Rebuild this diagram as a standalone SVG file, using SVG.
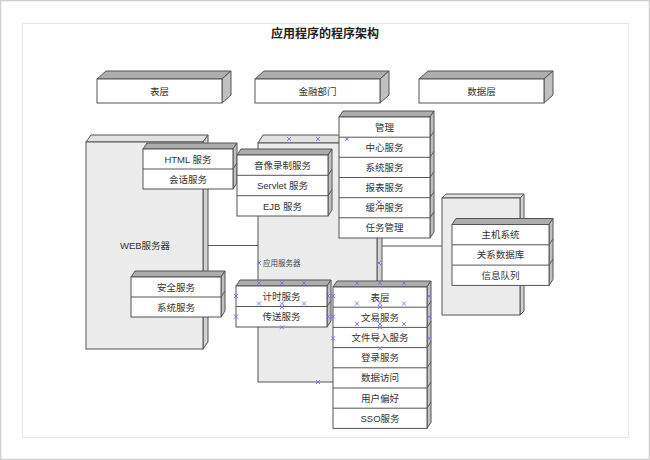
<svg xmlns="http://www.w3.org/2000/svg" xmlns:xlink="http://www.w3.org/1999/xlink" width="650" height="460" viewBox="0 0 650 460">
<defs>
<style>
.t{font-family:"Liberation Sans","Noto Sans CJK SC",sans-serif;font-size:9.5px;fill:#333;text-anchor:middle}
.tt{font-family:"Liberation Serif","Noto Sans CJK SC",serif;font-size:12px;font-weight:bold;fill:#222;text-anchor:middle}
.small{font-family:"Liberation Sans","Noto Sans CJK SC",sans-serif;font-size:7.5px;fill:#444}
.f{fill:#fff;stroke:#555;stroke-width:1}
.tp{fill:#adadad;stroke:#555;stroke-width:1}
.sd{fill:#c0c0c0;stroke:#555;stroke-width:1}
.nf{fill:#ececec;stroke:#555;stroke-width:1}
.nt{fill:#e2e2e2;stroke:#555;stroke-width:1}
.ns{fill:#d2d2d2;stroke:#555;stroke-width:1}
.ln{fill:none;stroke:#555;stroke-width:1}
.dv{stroke:#555;stroke-width:1}
.mk{fill:none;stroke:#7070ff;stroke-width:0.9}
</style>
<path id="x" class="mk" d="M-2,-2L2,2M-2,2L2,-2"/>
</defs>
<rect x="0.5" y="0.5" width="649" height="459" fill="#fff" stroke="#cfcfcf" stroke-width="1.5"/>
<rect x="22.5" y="23.5" width="606" height="414" fill="#fff" stroke="#e6e6e6" stroke-width="1"/>
<text class="tt" x="325" y="38">应用程序的程序架构</text>

<g id="layer-biao">
<polygon class="tp" points="97,79 106,71 231,71 222,79"/>
<polygon class="sd" points="222,79 231,71 231,95 222,103"/>
<rect class="f" x="97" y="79" width="125" height="24"/>
<text class="t" x="159.5" y="94.5">表层</text>
</g>
<g id="layer-jinrong">
<polygon class="tp" points="255,79 264,71 389,71 380,79"/>
<polygon class="sd" points="380,79 389,71 389,95 380,103"/>
<rect class="f" x="255" y="79" width="125" height="24"/>
<text class="t" x="317.5" y="94.5">金融部门</text>
</g>
<g id="layer-shuju">
<polygon class="tp" points="419,79 428,71 553,71 544,79"/>
<polygon class="sd" points="544,79 553,71 553,95 544,103"/>
<rect class="f" x="419" y="79" width="125" height="24"/>
<text class="t" x="481.5" y="94.5">数据层</text>
</g>

<g id="web-server">
<polygon class="nt" points="86,142 91,135 208,135 203,142"/>
<polygon class="ns" points="203,142 208,135 208,342 203,349"/>
<rect class="nf" x="86" y="142" width="117" height="207"/>
<text class="t" x="145" y="248.5">WEB服务器</text>
</g>
<g id="app-server">
<polygon class="nt" points="258,143 263,135 382,135 377,143"/>
<polygon class="ns" points="377,143 382,135 382,374 377,382"/>
<rect class="nf" x="258" y="143" width="119" height="239"/>
<text class="small" x="263" y="265.5">应用服务器</text>
</g>
<g id="data-server">
<polygon class="nt" points="442,198 446,194 524,194 520,198"/>
<polygon class="ns" points="520,198 524,194 524,311 520,315"/>
<rect class="nf" x="442" y="198" width="78" height="117"/>
</g>

<g id="connectors">
<line class="ln" x1="208" y1="245.5" x2="258" y2="245.5"/>
<line class="ln" x1="382" y1="246" x2="442" y2="246"/>
</g>

<g id="web-comp-1">
<polygon class="tp" points="143,149 147,143 237,143 233,149"/>
<polygon class="sd" points="233,149 237,143 237,183 233,189"/>
<line class="dv" x1="233" y1="169" x2="237" y2="163"/>
<rect class="f" x="143" y="149" width="90" height="40"/>
<line class="dv" x1="143" y1="169" x2="233" y2="169"/>
<text class="t" x="188" y="162.5">HTML 服务</text>
<text class="t" x="188" y="182.5">会话服务</text>
</g>
<g id="web-comp-2">
<polygon class="tp" points="131,277 135,271 225,271 221,277"/>
<polygon class="sd" points="221,277 225,271 225,311 221,317"/>
<line class="dv" x1="221" y1="297" x2="225" y2="291"/>
<rect class="f" x="131" y="277" width="90" height="40"/>
<line class="dv" x1="131" y1="297" x2="221" y2="297"/>
<text class="t" x="176" y="290.5">安全服务</text>
<text class="t" x="176" y="310.5">系统服务</text>
</g>

<g id="app-comp-media">
<polygon class="tp" points="237,155 241,149 332,149 328,155"/>
<polygon class="sd" points="328,155 332,149 332,210 328,216"/>
<line class="dv" x1="328" y1="175.3" x2="332" y2="169.3"/>
<line class="dv" x1="328" y1="195.7" x2="332" y2="189.7"/>
<rect class="f" x="237" y="155" width="91" height="61"/>
<line class="dv" x1="237" y1="175.3" x2="328" y2="175.3"/>
<line class="dv" x1="237" y1="195.7" x2="328" y2="195.7"/>
<text class="t" x="282.5" y="168.5">音像录制服务</text>
<text class="t" x="282.5" y="189">Servlet 服务</text>
<text class="t" x="282.5" y="209.5">EJB 服务</text>
</g>
<g id="app-comp-manage">
<polygon class="tp" points="339,117 343,111 434,111 430,117"/>
<polygon class="sd" points="430,117 434,111 434,232 430,238"/>
<line class="dv" x1="430" y1="137.2" x2="434" y2="131.2"/>
<line class="dv" x1="430" y1="157.3" x2="434" y2="151.3"/>
<line class="dv" x1="430" y1="177.5" x2="434" y2="171.5"/>
<line class="dv" x1="430" y1="197.7" x2="434" y2="191.7"/>
<line class="dv" x1="430" y1="217.8" x2="434" y2="211.8"/>
<rect class="f" x="339" y="117" width="91" height="121"/>
<line class="dv" x1="339" y1="137.2" x2="430" y2="137.2"/>
<line class="dv" x1="339" y1="157.3" x2="430" y2="157.3"/>
<line class="dv" x1="339" y1="177.5" x2="430" y2="177.5"/>
<line class="dv" x1="339" y1="197.7" x2="430" y2="197.7"/>
<line class="dv" x1="339" y1="217.8" x2="430" y2="217.8"/>
<text class="t" x="384.5" y="130.5">管理</text>
<text class="t" x="384.5" y="150.7">中心服务</text>
<text class="t" x="384.5" y="170.8">系统服务</text>
<text class="t" x="384.5" y="191">报表服务</text>
<text class="t" x="384.5" y="211.2">缓冲服务</text>
<text class="t" x="384.5" y="231.3">任务管理</text>
</g>
<g id="app-comp-timer">
<polygon class="tp" points="236,286 240,280 331,280 327,286"/>
<polygon class="sd" points="327,286 331,280 331,321 327,327"/>
<line class="dv" x1="327" y1="306.5" x2="331" y2="300.5"/>
<rect class="f" x="236" y="286" width="91" height="41"/>
<line class="dv" x1="236" y1="306.5" x2="327" y2="306.5"/>
<text class="t" x="281.5" y="299.8">计时服务</text>
<text class="t" x="281.5" y="320.3">传送服务</text>
</g>
<g id="app-comp-biao">
<polygon class="tp" points="333,287 337,281 431,281 427,287"/>
<polygon class="sd" points="427,287 431,281 431,422.4 427,428.4"/>
<line class="dv" x1="427" y1="307.2" x2="431" y2="301.2"/>
<line class="dv" x1="427" y1="327.4" x2="431" y2="321.4"/>
<line class="dv" x1="427" y1="347.6" x2="431" y2="341.6"/>
<line class="dv" x1="427" y1="367.8" x2="431" y2="361.8"/>
<line class="dv" x1="427" y1="388" x2="431" y2="382"/>
<line class="dv" x1="427" y1="408.2" x2="431" y2="402.2"/>
<rect class="f" x="333" y="287" width="94" height="141.4"/>
<line class="dv" x1="333" y1="307.2" x2="427" y2="307.2"/>
<line class="dv" x1="333" y1="327.4" x2="427" y2="327.4"/>
<line class="dv" x1="333" y1="347.6" x2="427" y2="347.6"/>
<line class="dv" x1="333" y1="367.8" x2="427" y2="367.8"/>
<line class="dv" x1="333" y1="388" x2="427" y2="388"/>
<line class="dv" x1="333" y1="408.2" x2="427" y2="408.2"/>
<text class="t" x="380" y="300.5">表层</text>
<text class="t" x="380" y="320.7">文易服务</text>
<text class="t" x="380" y="340.9">文件导入服务</text>
<text class="t" x="380" y="361.1">登录服务</text>
<text class="t" x="380" y="381.3">数据访问</text>
<text class="t" x="380" y="401.5">用户偏好</text>
<text class="t" x="380" y="421.7">SSO服务</text>
</g>

<g id="data-comp">
<polygon class="tp" points="452,224.5 456,218.5 553,218.5 549,224.5"/>
<polygon class="sd" points="549,224.5 553,218.5 553,279.4 549,285.4"/>
<line class="dv" x1="549" y1="244.8" x2="553" y2="238.8"/>
<line class="dv" x1="549" y1="265.1" x2="553" y2="259.1"/>
<rect class="f" x="452" y="224.5" width="97" height="60.9"/>
<line class="dv" x1="452" y1="244.8" x2="549" y2="244.8"/>
<line class="dv" x1="452" y1="265.1" x2="549" y2="265.1"/>
<text class="t" x="500.5" y="238">主机系统</text>
<text class="t" x="500.5" y="258.3">关系数据库</text>
<text class="t" x="500.5" y="278.6">信息队列</text>
</g>

<g id="markers">
<use xlink:href="#x" x="289" y="139"/><use xlink:href="#x" x="318" y="139"/><use xlink:href="#x" x="347" y="139"/>
<use xlink:href="#x" x="379" y="202"/><use xlink:href="#x" x="259" y="263"/><use xlink:href="#x" x="379" y="263"/>
<use xlink:href="#x" x="259" y="283"/><use xlink:href="#x" x="282" y="283"/><use xlink:href="#x" x="304" y="283"/>
<use xlink:href="#x" x="357" y="283"/><use xlink:href="#x" x="380" y="283"/><use xlink:href="#x" x="404" y="283"/>
<use xlink:href="#x" x="236" y="296"/><use xlink:href="#x" x="328" y="296"/><use xlink:href="#x" x="333" y="296"/><use xlink:href="#x" x="429" y="296"/>
<use xlink:href="#x" x="259" y="303.5"/><use xlink:href="#x" x="282" y="303.5"/><use xlink:href="#x" x="304" y="303.5"/>
<use xlink:href="#x" x="357" y="303.5"/><use xlink:href="#x" x="380" y="303.5"/><use xlink:href="#x" x="404" y="303.5"/>
<use xlink:href="#x" x="282" y="307"/><use xlink:href="#x" x="380" y="307"/>
<use xlink:href="#x" x="236" y="316.7"/><use xlink:href="#x" x="328" y="316.7"/><use xlink:href="#x" x="333" y="316.7"/><use xlink:href="#x" x="429" y="316.7"/>
<use xlink:href="#x" x="357" y="324"/><use xlink:href="#x" x="380" y="324"/><use xlink:href="#x" x="404" y="324"/>
<use xlink:href="#x" x="282" y="327.3"/><use xlink:href="#x" x="380" y="327.3"/>
<use xlink:href="#x" x="333" y="338.3"/><use xlink:href="#x" x="429" y="338.3"/>
<use xlink:href="#x" x="380" y="348.3"/><use xlink:href="#x" x="318" y="382"/>
</g>
</svg>
